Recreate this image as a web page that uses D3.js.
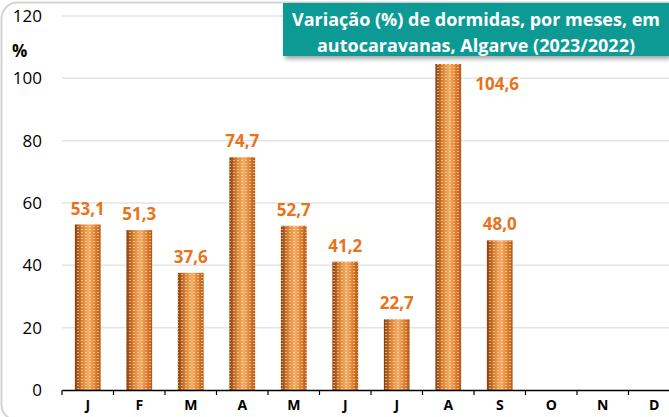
<!DOCTYPE html>
<html>
<head>
<meta charset="utf-8">
<script src="https://cdn.jsdelivr.net/npm/d3@7"></script>
<style>
  body { margin: 0; background: #fff; }
  svg { display: block; font-family: "Open Sans", Lato, sans-serif; }
</style>
</head>
<body>
<svg width="669" height="417"></svg>
<script>
// chart data
const months = ['J', 'F', 'M', 'A', 'M', 'J', 'J', 'A', 'S', 'O', 'N', 'D'];
const values = [53.1, 51.3, 37.6, 74.7, 52.7, 41.2, 22.7, 104.6, 48.0, null, null, null];
const yTicks = [0, 20, 40, 60, 80, 100, 120];
const titleLines = ['Variação (%) de dormidas, por meses, em', 'autocaravanas, Algarve (2023/2022)'];

const svg = d3.select('svg');
const font = '"Open Sans", Lato, sans-serif';

const data = months.map((m, i) => ({ key: i, month: m, value: values[i] }));

const x = d3.scaleBand()
  .domain(data.map(d => d.key))
  .range([62, 680])
  .paddingInner(0.5)
  .paddingOuter(0.25);

const y = d3.scaleLinear()
  .domain([0, 120])
  .range([390, 16]);

// defs: cylinder gradient + dotted texture
const defs = svg.append('defs');
const grad = defs.append('linearGradient').attr('id', 'cyl').attr('x1', 0).attr('x2', 1).attr('y1', 0).attr('y2', 0);
grad.append('stop').attr('offset', '0%').attr('stop-color', '#8a3f0e');
grad.append('stop').attr('offset', '30%').attr('stop-color', '#e08636');
grad.append('stop').attr('offset', '55%').attr('stop-color', '#f6ae66');
grad.append('stop').attr('offset', '80%').attr('stop-color', '#e07e2e');
grad.append('stop').attr('offset', '100%').attr('stop-color', '#b05a1a');

const pat = defs.append('pattern').attr('id', 'dots')
  .attr('patternUnits', 'userSpaceOnUse').attr('width', 4).attr('height', 3);
pat.append('rect').attr('x', 1).attr('y', 1).attr('width', 2).attr('height', 1)
  .attr('fill', '#ffe6c6').attr('opacity', 0.6);

const shadow = defs.append('filter').attr('id', 'shadow').attr('x', '-10%').attr('y', '-20%').attr('width', '130%').attr('height', '160%');
shadow.append('feDropShadow').attr('dx', 2).attr('dy', 3).attr('stdDeviation', 2).attr('flood-color', '#000').attr('flood-opacity', 0.35);

// outer frame
svg.append('rect')
  .attr('x', 1.5).attr('y', 2.5).attr('width', 700).attr('height', 418)
  .attr('rx', 16)
  .attr('fill', 'none').attr('stroke', '#d4d4d4').attr('stroke-width', 2);

// gridlines
svg.append('g')
  .selectAll('line')
  .data(yTicks.filter(t => t > 0))
  .join('line')
  .attr('x1', 62).attr('x2', 669)
  .attr('y1', d => y(d)).attr('y2', d => y(d))
  .attr('stroke', '#e4e4e4').attr('stroke-width', 1.5);

// y axis labels
const yAxis = svg.append('g')
  .attr('transform', 'translate(42,0)')
  .call(d3.axisLeft(y).tickValues(yTicks).tickSize(0).tickPadding(0));
yAxis.select('.domain').remove();
yAxis.selectAll('text')
  .attr('font-family', font)
  .attr('font-size', 17)
  .attr('fill', '#000');

svg.append('text')
  .attr('x', 12).attr('y', 57)
  .attr('font-size', 17).attr('font-weight', 'bold')
  .text('%');

// bars
const bars = data.filter(d => d.value != null);
svg.append('g')
  .selectAll('rect')
  .data(bars)
  .join('rect')
  .attr('x', d => x(d.key))
  .attr('y', d => y(d.value))
  .attr('width', x.bandwidth())
  .attr('height', d => y(0) - y(d.value))
  .attr('fill', 'url(#cyl)');
svg.append('g')
  .selectAll('rect')
  .data(bars)
  .join('rect')
  .attr('x', d => x(d.key))
  .attr('y', d => y(d.value))
  .attr('width', x.bandwidth())
  .attr('height', d => y(0) - y(d.value))
  .attr('fill', 'url(#dots)');

// value labels
const fmt = v => v.toFixed(1).replace('.', ',');
svg.append('g')
  .selectAll('text')
  .data(bars)
  .join('text')
  .attr('x', d => d.value > 100 ? x(d.key) + x.bandwidth() + 36 : x(d.key) + x.bandwidth() / 2)
  .attr('y', d => d.value > 100 ? y(d.value) + 26 : y(d.value) - 10)
  .attr('text-anchor', 'middle')
  .attr('font-size', 17).attr('font-weight', 'bold')
  .attr('fill', '#e8731a')
  .text(d => fmt(d.value));

// x axis
const xAxis = svg.append('g')
  .attr('transform', `translate(0,${y(0)})`)
  .call(d3.axisBottom(x).tickSize(0).tickPadding(10).tickFormat(i => months[i]));
xAxis.select('.domain').attr('stroke', '#000').attr('stroke-width', 1.5);
xAxis.selectAll('text')
  .attr('font-family', font)
  .attr('font-size', 14).attr('font-weight', 'bold').attr('fill', '#000');
const step = x.step();
xAxis.append('g')
  .selectAll('line')
  .data(d3.range(13))
  .join('line')
  .attr('x1', i => 62 + i * step).attr('x2', i => 62 + i * step)
  .attr('y1', 0).attr('y2', 5)
  .attr('stroke', '#000').attr('stroke-width', 1.2);

// title box
const tb = svg.append('g');
tb.append('rect')
  .attr('x', 283).attr('y', 3).attr('width', 386).attr('height', 53)
  .attr('fill', '#0f9a94')
  .attr('filter', 'url(#shadow)');
tb.selectAll('text')
  .data(titleLines)
  .join('text')
  .attr('x', 476).attr('y', (d, i) => 26 + i * 26)
  .attr('text-anchor', 'middle')
  .attr('font-size', 18).attr('font-weight', 'bold')
  .attr('fill', '#fff')
  .text(d => d);
</script>
</body>
</html>
